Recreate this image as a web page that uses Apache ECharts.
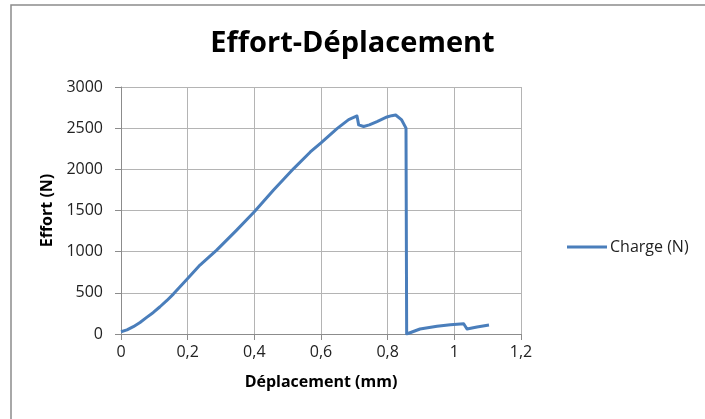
<!DOCTYPE html>
<html>
<head>
<meta charset="utf-8">
<script src="https://cdn.jsdelivr.net/npm/echarts@6/dist/echarts.min.js"></script>
<style>
  html, body { margin: 0; padding: 0; background: #fff; }
  #chart { width: 705px; height: 419px; }
</style>
</head>
<body>
<div id="chart"></div>
<script>
// Displacement (mm) and load (N) from the tensile test
const deplacement = [0, 0.018, 0.037, 0.057, 0.077, 0.097, 0.117, 0.137, 0.157, 0.2, 0.237, 0.287, 0.347, 0.4, 0.457, 0.518, 0.568, 0.6, 0.648, 0.683, 0.708, 0.713, 0.728, 0.745, 0.768, 0.798, 0.812, 0.824, 0.842, 0.855, 0.857, 0.897, 0.948, 0.988, 1.028, 1.038, 1.068, 1.104];
const charge = [28, 50, 89, 140, 202, 262, 331, 404, 485, 675, 837, 1019, 1261, 1484, 1747, 2009, 2211, 2321, 2494, 2604, 2648, 2540, 2520, 2540, 2580, 2636, 2652, 2660, 2600, 2500, 0, 61, 93, 113, 125, 61, 85, 109];

const xTicks = { min: 0, max: 1.2, interval: 0.2 };
const yTicks = { min: 0, max: 3000, interval: 500 };

const titleText = 'Effort-Déplacement';
const xName = 'Déplacement (mm)';
const yName = 'Effort (N)';
const seriesName = 'Charge (N)';

const font = 'Open Sans';
// French decimal comma, no thousands separator
const fmt = v => String(+v.toFixed(2)).replace('.', ',');

const chart = echarts.init(document.getElementById('chart'), null, { renderer: 'canvas' });
chart.setOption({
  animation: false,
  backgroundColor: '#fff',
  graphic: [{
    type: 'rect',
    shape: { x: 11, y: 5, width: 720, height: 440 },
    style: { fill: 'none', stroke: '#8c8c8c', lineWidth: 1.5 },
    silent: true
  }],
  title: {
    text: titleText,
    left: 'center',
    top: 24,
    textStyle: { fontFamily: font, fontWeight: 'bold', fontSize: 29, color: '#000' }
  },
  legend: {
    data: [{ name: seriesName, icon: 'rect' }],
    left: 562,
    top: 234,
    itemWidth: 40,
    itemHeight: 3,
    itemGap: 4,
    textStyle: { fontFamily: font, fontSize: 16, color: '#222', padding: [0, 0, 0, -2] }
  },
  grid: { left: 121, right: 184, top: 87, bottom: 85, containLabel: false },
  xAxis: {
    type: 'value',
    min: xTicks.min, max: xTicks.max, interval: xTicks.interval,
    name: xName,
    nameLocation: 'middle',
    nameGap: 40,
    nameTextStyle: { fontFamily: font, fontWeight: 'bold', fontSize: 16, color: '#000' },
    axisLine: { show: true, lineStyle: { color: '#8c8c8c', width: 1 } },
    axisTick: { show: true, length: 6, lineStyle: { color: '#8c8c8c' } },
    axisLabel: { margin: 10, fontFamily: font, fontSize: 16, color: '#222', formatter: fmt },
    splitLine: { show: true, lineStyle: { color: '#b4b4b4', width: 1 } }
  },
  yAxis: {
    type: 'value',
    min: yTicks.min, max: yTicks.max, interval: yTicks.interval,
    name: yName,
    nameLocation: 'middle',
    nameGap: 64,
    nameTextStyle: { fontFamily: font, fontWeight: 'bold', fontSize: 16, color: '#000' },
    axisLine: { show: true, lineStyle: { color: '#8c8c8c', width: 1 } },
    axisTick: { show: true, length: 6, lineStyle: { color: '#8c8c8c' } },
    axisLabel: { margin: 18, fontFamily: font, fontSize: 16, color: '#222', formatter: fmt },
    splitLine: { show: true, lineStyle: { color: '#b4b4b4', width: 1 } }
  },
  series: [{
    name: seriesName,
    type: 'line',
    data: deplacement.map((x, i) => [x, charge[i]]),
    showSymbol: false,
    symbol: 'none',
    lineStyle: { color: '#4a7ebb', width: 3, join: 'round' },
    itemStyle: { color: '#4a7ebb' }
  }]
});
</script>
</body>
</html>
